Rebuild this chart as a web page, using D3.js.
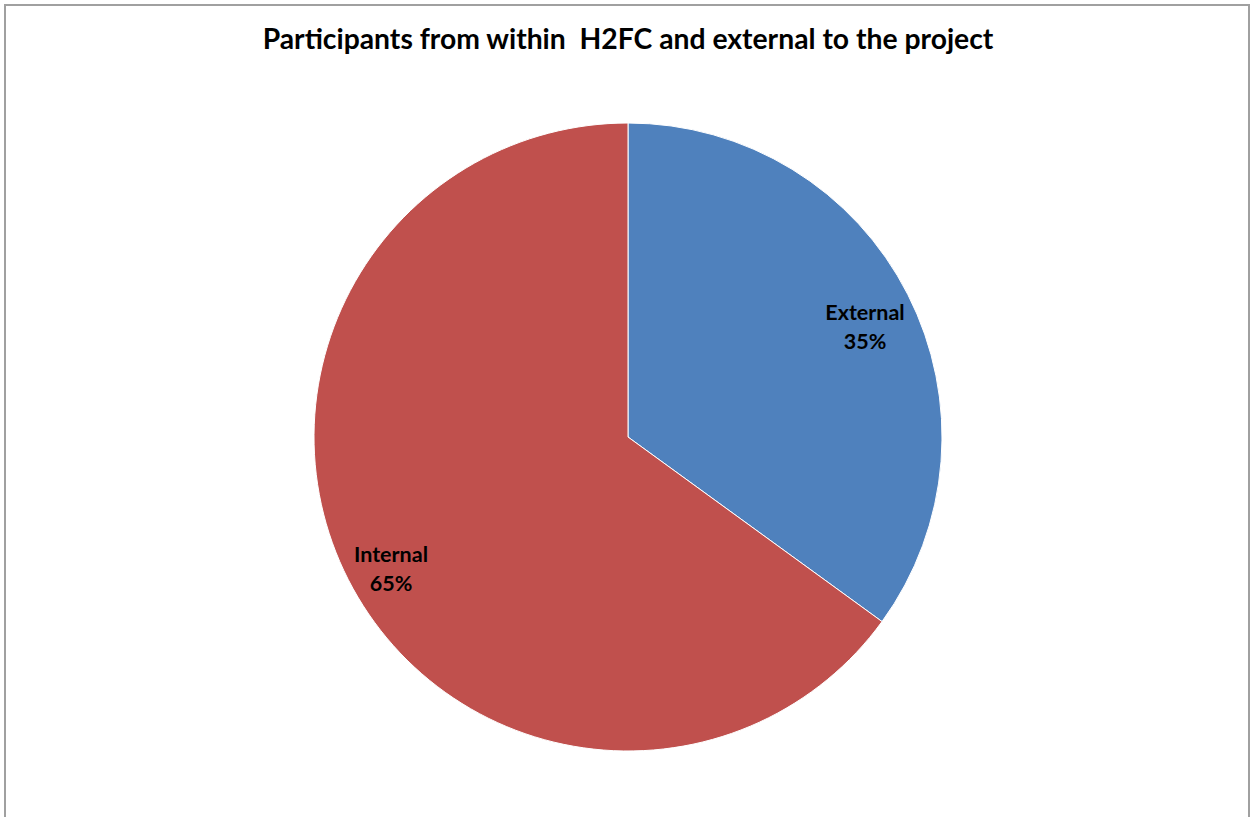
<!DOCTYPE html>
<html>
<head>
<meta charset="utf-8">
<script src="https://cdn.jsdelivr.net/npm/d3@7"></script>
<style>
  html, body { margin: 0; padding: 0; background: #fff; }
  svg { display: block; }
</style>
</head>
<body>
<svg id="chart" width="1252" height="817"></svg>
<script>
const title = "Participants from within  H2FC and external to the project";
const categories = ["External", "Internal"];
const values = [35, 65];
const colors = ["#4F81BD", "#C0504D"];

const svg = d3.select("#chart");

// chart border
svg.append("rect")
  .attr("x", 5).attr("y", 5)
  .attr("width", 1244).attr("height", 830)
  .attr("fill", "#fff")
  .attr("stroke", "#a0a0a0")
  .attr("stroke-width", 2);

svg.append("text")
  .attr("x", 628).attr("y", 49)
  .attr("text-anchor", "middle")
  .attr("font-family", "Lato, 'Open Sans', sans-serif")
  .attr("font-weight", "bold")
  .attr("font-size", 28.3)
  .attr("fill", "#000")
  .attr("xml:space", "preserve")
  .style("white-space", "pre")
  .text(title);

const cx = 628, cy = 437, R = 314;
const data = categories.map((c, i) => ({ name: c, value: values[i], color: colors[i] }));
const pie = d3.pie().value(d => d.value).sort(null);
const arc = d3.arc().innerRadius(0).outerRadius(R);
const labelArc = d3.arc().innerRadius(266).outerRadius(266);

const g = svg.append("g").attr("transform", `translate(${cx},${cy})`);
const arcs = pie(data);

g.selectAll("path.slice")
  .data(arcs)
  .join("path")
  .attr("class", "slice")
  .attr("d", arc)
  .attr("fill", d => d.data.color)
  .attr("stroke", "#fff")
  .attr("stroke-width", 1);

const total = d3.sum(values);
const lbl = g.selectAll("text.lbl")
  .data(arcs)
  .join("text")
  .attr("class", "lbl")
  .attr("transform", d => {
    const [x, y] = labelArc.centroid(d);
    return `translate(${x},${y})`;
  })
  .attr("text-anchor", "middle")
  .attr("font-family", "Lato, 'Open Sans', sans-serif")
  .attr("font-weight", "bold")
  .attr("font-size", 21.5)
  .attr("fill", "#000");

lbl.append("tspan").attr("x", 0).attr("dy", 4).text(d => d.data.name);
lbl.append("tspan").attr("x", 0).attr("dy", 29)
  .text(d => Math.round(d.data.value / total * 100) + "%");
</script>
</body>
</html>
